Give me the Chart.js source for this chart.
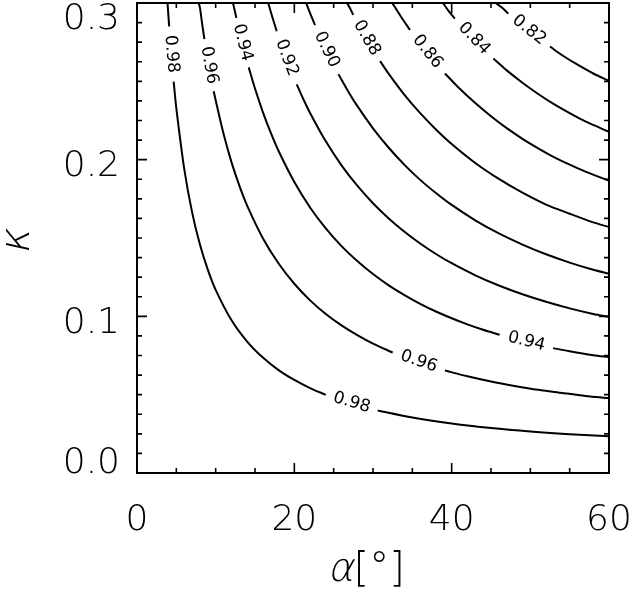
<!DOCTYPE html>
<html>
<head>
<meta charset="utf-8">
<script src="https://cdn.jsdelivr.net/npm/chart.js@4/dist/chart.umd.min.js"></script>
<style>
  html, body { margin: 0; padding: 0; background: #fff; }
</style>
</head>
<body>
<canvas id="contourChart" width="632" height="592"></canvas>
<script>
// contour levels and the curve (alpha in degrees, kappa)
// null marks a break in the line where the level label sits
var levels = [0.98, 0.96, 0.94, 0.92, 0.90, 0.88, 0.86, 0.84, 0.82];

var alpha098 = [3.88, 3.95, 4.09, null, 4.66, 5, 6, 7, 8, 9, 10, 12, 14, 16, 18, 20, 22, 24, null, 30.6, 35, 40, 45, 50, 55, 60];
var kappa098 = [0.300, 0.295, 0.285, null, 0.2498, 0.2328, 0.1943, 0.1665, 0.1458, 0.1298, 0.1169, 0.0976, 0.0839, 0.0737, 0.0657, 0.0594, 0.0542, 0.0499, null, 0.0399, 0.0354, 0.0316, 0.0287, 0.0265, 0.0248, 0.0234];

var alpha096 = [7.85, 8.0, 8.3, 8.57, null, 9.75, 10, 11, 12, 13, 14, 16, 18, 20, 22, 24, 26, 28, 30, 32.5, null, 39.15, 42, 45, 48, 51, 54, 57, 60];
var kappa096 = [0.300, 0.297, 0.286, 0.277, null, 0.2437, 0.2379, 0.2165, 0.1986, 0.1836, 0.1707, 0.1499, 0.1337, 0.1208, 0.1102, 0.1015, 0.0942, 0.0880, 0.0826, 0.0769, null, 0.0654, 0.0617, 0.0584, 0.0556, 0.0531, 0.0511, 0.0492, 0.0478];

var alpha094 = [12.2, 12.4, 12.63, null, 14.2, 15, 16, 17, 18, 20, 22, 24, 26, 28, 30, 32, 34, 36, 38, 40, 42, 44, 46.1, null, 52.9, 55, 58, 60];
var kappa094 = [0.300, 0.2957, 0.2905, null, 0.2589, 0.2454, 0.2304, 0.2172, 0.2055, 0.1857, 0.1695, 0.1561, 0.1448, 0.1353, 0.1270, 0.1198, 0.1136, 0.1080, 0.1031, 0.0988, 0.0949, 0.0914, 0.0882, null, 0.0797, 0.0777, 0.0752, 0.0739];

var alpha092 = [16.68, 17.2, 17.76, null, 20.3, 21, 22, 24, 26, 28, 30, 32, 34, 36, 38, 40, 43, 46, 49, 52, 55, 58, 60];
var kappa092 = [0.300, 0.2911, 0.2820, null, 0.2481, 0.2402, 0.2298, 0.2117, 0.1964, 0.1834, 0.1722, 0.1625, 0.1540, 0.1465, 0.1398, 0.1339, 0.1262, 0.1197, 0.1141, 0.1093, 0.1051, 0.1015, 0.0996];

var alpha090 = [21.5, 22.0, 22.63, null, 25.6, 27, 28, 30, 32, 34, 36, 38, 40, 43, 46, 49, 52, 55, 58, 60];
var kappa090 = [0.300, 0.2936, 0.2859, null, 0.2546, 0.2423, 0.2343, 0.2200, 0.2076, 0.1967, 0.1871, 0.1787, 0.1711, 0.1613, 0.1529, 0.1458, 0.1396, 0.1343, 0.1297, 0.1272];

var alpha088 = [26.7, 27.1, 27.5, null, 30.9, 32, 34, 36, 38, 40, 43, 46, 49, 52, 55, 58, 60];
var kappa088 = [0.300, 0.2964, 0.2924, null, 0.2629, 0.2548, 0.2414, 0.2297, 0.2193, 0.2100, 0.1979, 0.1877, 0.1789, 0.1713, 0.1655, 0.1600, 0.1570];

var alpha086 = [32.45, 33.5, 34.7, null, 39.15, 41, 43, 45, 47, 49, 51, 53, 55, 57, 60];
var kappa086 = [0.300, 0.2917, 0.2828, null, 0.2550, 0.2454, 0.2361, 0.2277, 0.2201, 0.2133, 0.2072, 0.2016, 0.1968, 0.1924, 0.1866];

var alpha084 = [38.9, 39.6, 40.4, null, 45.3, 47, 49, 51, 53, 55, 57, 60];
var kappa084 = [0.300, 0.2950, 0.2901, null, 0.2645, 0.2570, 0.2491, 0.2419, 0.2354, 0.2297, 0.2244, 0.2178];

var alpha082 = [45.6, 46.5, 47.2, null, 52.5, 54, 56, 58, 60];
var kappa082 = [0.300, 0.2966, 0.2932, null, 0.2722, 0.2668, 0.2606, 0.2550, 0.2503];

var xTicks = [0, 20, 40, 60];
var xTickLabels = ["0", "20", "40", "60"];
var yTicks = [0.0, 0.1, 0.2, 0.3];
var yTickLabels = ["0.0", "0.1", "0.2", "0.3"];
var xMinorStep = 5;
var yMinorStep = 0.0125;

var curves = [
  [alpha098, kappa098], [alpha096, kappa096], [alpha094, kappa094],
  [alpha092, kappa092], [alpha090, kappa090], [alpha088, kappa088],
  [alpha086, kappa086], [alpha084, kappa084], [alpha082, kappa082]
];

var thinFont = '"DejaVu Sans", "Noto Sans", sans-serif';

var datasets = curves.map(function (c, i) {
  return {
    label: levels[i].toFixed(2),
    data: c[0].map(function (a, j) {
      return a === null ? {x: null, y: null} : {x: a, y: c[1][j]};
    }),
    showLine: true,
    borderColor: "#000",
    borderWidth: 2,
    pointRadius: 0,
    spanGaps: false,
    tension: 0.3
  };
});

// slanted thin text, the font has no light italic
function slantText(ctx, text, x, y) {
  ctx.save();
  ctx.translate(x, y);
  ctx.transform(1, 0, -0.22, 1, 0, 0);
  ctx.fillText(text, 0, 0);
  ctx.restore();
}

var boxPlugin = {
  id: "box",
  afterDatasetsDraw: function (chart) {
    var ctx = chart.ctx;
    var xs = chart.scales.x, ys = chart.scales.y;
    var a = chart.chartArea;
    ctx.save();
    ctx.strokeStyle = "#000";
    ctx.fillStyle = "#000";

    // contour labels in the gaps of each curve
    ctx.font = "17px " + thinFont;
    ctx.textAlign = "center";
    ctx.textBaseline = "middle";
    curves.forEach(function (c, i) {
      for (var j = 1; j < c[0].length - 1; j++) {
        if (c[0][j] !== null) continue;
        var x1 = xs.getPixelForValue(c[0][j - 1]), y1 = ys.getPixelForValue(c[1][j - 1]);
        var x2 = xs.getPixelForValue(c[0][j + 1]), y2 = ys.getPixelForValue(c[1][j + 1]);
        ctx.save();
        ctx.translate((x1 + x2) / 2, (y1 + y2) / 2);
        ctx.rotate(Math.atan2(y2 - y1, x2 - x1));
        ctx.fillText(levels[i].toFixed(2), 0, 0);
        ctx.restore();
      }
    });

    // frame
    ctx.lineWidth = 2;
    ctx.strokeRect(a.left, a.top, a.right - a.left, a.bottom - a.top);

    // ticks on all four sides
    ctx.lineWidth = 1.6;
    ctx.beginPath();
    for (var v = xs.min; v <= xs.max + 1e-9; v += xMinorStep) {
      var px = xs.getPixelForValue(v);
      var len = xTicks.indexOf(Math.round(v)) >= 0 ? 10 : 5;
      ctx.moveTo(px, a.bottom); ctx.lineTo(px, a.bottom - len);
      ctx.moveTo(px, a.top); ctx.lineTo(px, a.top + len);
    }
    for (var k = 0; k <= 24; k++) {
      var yv = ys.min + k * yMinorStep;
      var py = ys.getPixelForValue(yv);
      var ylen = k % 8 === 0 ? 10 : 5;
      ctx.moveTo(a.left, py); ctx.lineTo(a.left + ylen, py);
      ctx.moveTo(a.right, py); ctx.lineTo(a.right - ylen, py);
    }
    ctx.stroke();

    // tick labels
    ctx.font = "200 36px " + thinFont;
    ctx.textBaseline = "alphabetic";
    ctx.textAlign = "center";
    xTicks.forEach(function (t, i) {
      ctx.fillText(xTickLabels[i], xs.getPixelForValue(t), a.bottom + 57);
    });
    ctx.textAlign = "right";
    yTicks.forEach(function (t, i) {
      var base = ys.getPixelForValue(t) + 16.5;
      base = Math.max(a.top + 26, Math.min(a.bottom, base));
      ctx.fillText(yTickLabels[i], a.left - 17, base);
    });

    // axis titles
    ctx.font = "200 40px " + thinFont;
    var wA = ctx.measureText("\u03b1").width;
    var wB = ctx.measureText("[\u00b0]").width;
    var x0 = 366 - (wA + wB) / 2;
    ctx.textAlign = "left";
    slantText(ctx, "\u03b1", x0, 581);
    ctx.fillText("[\u00b0]", x0 + wA, 581);

    ctx.save();
    ctx.translate(18, 240);
    ctx.rotate(-Math.PI / 2);
    ctx.textAlign = "center";
    ctx.textBaseline = "middle";
    ctx.font = "300 42px " + thinFont;
    slantText(ctx, "\u03ba", 0, 0);
    ctx.restore();

    ctx.restore();
  }
};

var ctx1 = document.getElementById("contourChart").getContext("2d");
new Chart(ctx1, {
  type: "scatter",
  data: {datasets: datasets},
  options: {
    responsive: false,
    animation: false,
    devicePixelRatio: 1,
    layout: {padding: {left: 137, right: 23, top: 3, bottom: 119}},
    plugins: {legend: {display: false}, tooltip: {enabled: false}},
    scales: {
      x: {type: "linear", min: 0, max: 60, display: false},
      y: {type: "linear", min: 0, max: 0.3, display: false}
    }
  },
  plugins: [boxPlugin]
});
</script>
</body>
</html>
